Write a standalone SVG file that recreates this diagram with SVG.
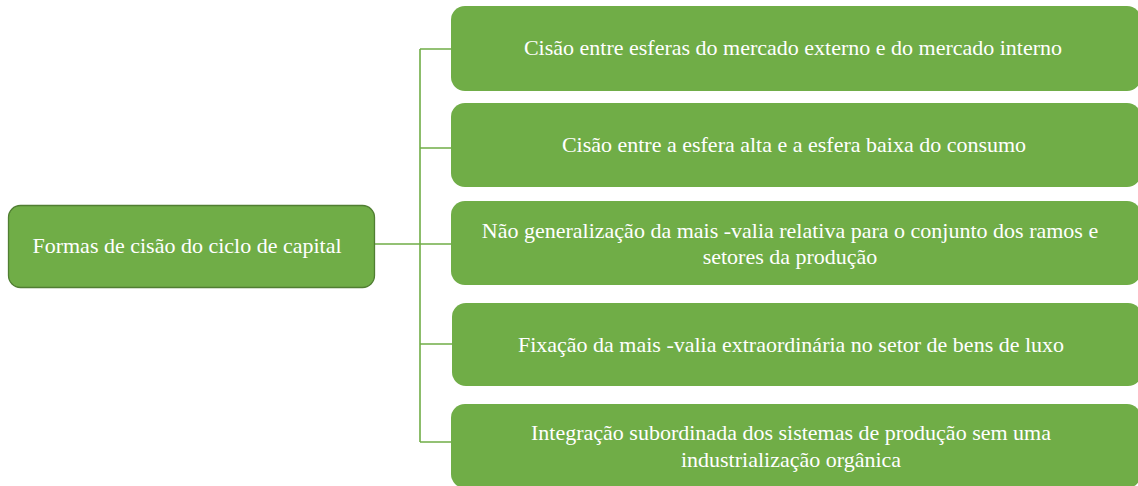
<svg xmlns="http://www.w3.org/2000/svg" width="1138" height="486" viewBox="0 0 1138 486">
<style>
.n{fill:#70AD47;}
.root{fill:#70AD47;stroke:#507E32;stroke-width:1.3;}
.t{font-family:"Liberation Serif","Times New Roman",serif;font-size:22px;fill:#FFFFFF;text-anchor:middle;}
.c{fill:none;stroke:#70AD47;stroke-width:1.6;}
</style>
<rect width="1138" height="486" fill="#FFFFFF"/>
<g id="connectors">
<path class="c" d="M375 244 H420 M420 49 V442 M420 49 H452 M420 148 H452 M420 244 H452 M420 344 H453 M420 442 H452"/>
</g>
<g id="root">
<rect class="root" x="8.5" y="205.5" width="366" height="82" rx="12"/>
<text class="t" x="187" y="253">Formas de cisão do ciclo de capital</text>
</g>
<g id="n1">
<rect class="n" x="451" y="6" width="690" height="85" rx="14"/>
<text class="t" x="793" y="55">Cisão entre esferas do mercado externo e do mercado interno</text>
</g>
<g id="n2">
<rect class="n" x="451" y="103" width="690" height="84" rx="14"/>
<text class="t" x="794" y="152">Cisão entre a esfera alta e a esfera baixa do consumo</text>
</g>
<g id="n3">
<rect class="n" x="451" y="201" width="690" height="84" rx="14"/>
<text class="t" x="790" y="238">Não generalização da mais -valia relativa para o conjunto dos ramos e</text>
<text class="t" x="790" y="264">setores da produção</text>
</g>
<g id="n4">
<rect class="n" x="452" y="303" width="690" height="83" rx="14"/>
<text class="t" x="791" y="352">Fixação da mais -valia extraordinária no setor de bens de luxo</text>
</g>
<g id="n5">
<rect class="n" x="451" y="404" width="690" height="84" rx="14"/>
<text class="t" x="791" y="440">Integração subordinada dos sistemas de produção sem uma</text>
<text class="t" x="791" y="467">industrialização orgânica</text>
</g>
</svg>
